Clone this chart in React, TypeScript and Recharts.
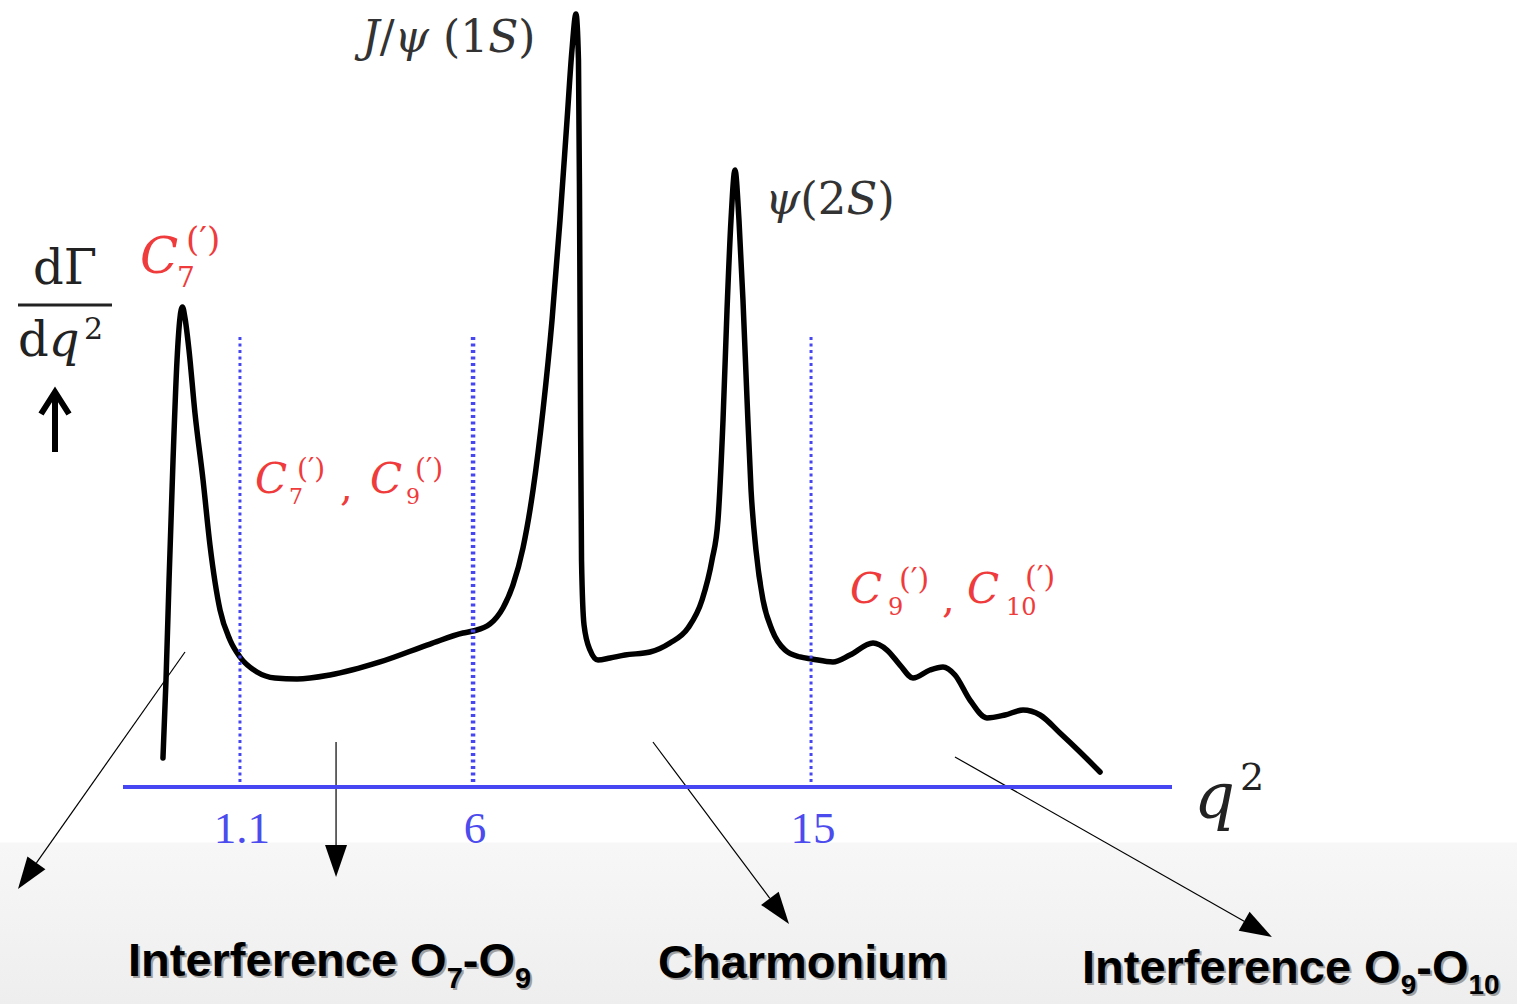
import React from 'react';
import { LineChart, Line, XAxis, YAxis, ReferenceLine, Customized } from 'recharts';

// Schematic dΓ/dq² spectrum. x: position along the drawn q² axis (0..100 spans the axis line),
// y: differential rate in arbitrary units (0 at the axis, 100 at the top of the plot).
const curveX = [
  3.81, 4.10, 4.39, 4.77, 5.15, 5.43, 5.67, 5.91, 6.29, 6.86, 7.63, 8.29, 9.25, 10.20, 11.15,
  12.77, 14.49, 16.59, 19.73, 24.50, 29.27, 32.41, 33.37, 34.99, 36.22, 37.18, 38.13, 39.09,
  40.04, 40.90, 41.66, 42.33, 42.80, 43.18, 43.42, 43.52, 43.61, 43.71, 43.95, 44.52, 45.28,
  46.43, 47.85, 50.24, 52.14, 53.86, 55.20, 56.15, 56.72, 57.20, 57.58, 57.96, 58.34, 58.72,
  59.10, 59.49, 59.87, 60.34, 61.01, 61.87, 63.11, 64.54, 65.68, 67.68, 69.30, 71.50, 72.83,
  74.07, 75.31, 76.93, 78.17, 79.31, 80.74, 82.36, 84.08, 85.80, 87.42, 89.32, 91.23, 93.14,
];
const curveY = [
  3.72, 13.72, 26.54, 41.92, 54.74, 60.13, 61.54, 60.13, 56.03, 47.95, 39.36, 31.03, 22.69, 18.85, 16.67,
  14.74, 13.97, 13.85, 14.36, 16.03, 18.33, 19.74, 20.00, 20.90, 22.95, 25.90, 30.64, 38.08,
  48.33, 59.87, 72.69, 85.51, 94.49, 99.10, 93.21, 75.26, 49.62, 29.10, 20.77, 17.56, 16.28,
  16.54, 16.92, 17.31, 18.46, 20.38, 23.97, 29.10, 34.23, 47.05, 61.15, 72.69, 79.10, 72.69,
  62.44, 49.62, 38.08, 30.38, 23.97, 20.13, 17.56, 16.67, 16.41, 16.03, 16.92, 18.46, 17.56,
  15.64, 13.97, 15.00, 15.38, 14.36, 11.15, 8.85, 9.23, 9.87, 9.23, 6.92, 4.49, 1.92,
];

// q² bin boundaries (tick positions along the schematic axis and their labels)
const tickPositions = [11.15, 33.37, 65.59];
const tickLabels = ['1.1', '6', '15'];
const boundaryTop = 57.7;
const boundaryWidths = [3, 4.5, 3];

// annotation arrows: [x, y] start and end points in chart units
const arrowStarts = [
  [5.91, 17.31],
  [20.31, 5.77],
  [50.52, 5.77],
  [79.31, 3.85],
];
const arrowEnds = [
  [-10.01, -13.08],
  [20.31, -11.54],
  [63.49, -17.56],
  [109.53, -19.23],
];

const data = curveX.map((x, i) => ({ x, y: curveY[i] }));

const BLUE = '#4646f2';
const RED = '#ef3b3b';
const SERIF = '"Liberation Serif", "DejaVu Serif", serif';
const MATH = '"DejaVu Serif", "Liberation Serif", serif';
const SANS = '"Liberation Sans", Arial, sans-serif';

const AxisTick = (props: any) => {
  const { x, y, payload } = props;
  const i = tickPositions.indexOf(payload.value);
  return (
    <text x={x + 2} y={y + 54} textAnchor="middle" fontFamily={SERIF} fontSize={45} fill="#4b4bee">
      {tickLabels[i]}
    </text>
  );
};

const arrowShape = (props: any) => {
  const { x1, y1, x2, y2 } = props;
  const dx = x2 - x1;
  const dy = y2 - y1;
  const len = Math.hypot(dx, dy) || 1;
  const ux = dx / len;
  const uy = dy / len;
  const hl = 32;
  const hw = 11;
  const bx = x2 - ux * hl;
  const by = y2 - uy * hl;
  const pts = `${x2},${y2} ${bx - uy * hw},${by + ux * hw} ${bx + uy * hw},${by - ux * hw}`;
  return (
    <g>
      <line x1={x1} y1={y1} x2={bx} y2={by} stroke="#000" strokeWidth={1.2} />
      <polygon points={pts} fill="#000" />
    </g>
  );
};

const ShadowText = ({ x, y, children }: any) => (
  <g fontFamily={SANS} fontWeight="bold" fontSize={47}>
    <text x={x + 2} y={y + 2} fill="#a0a0a0">{children}</text>
    <text x={x} y={y} fill="#000">{children}</text>
  </g>
);

const CoefLabel = ({ x, y, size, sub, subSize, supSize, subDx, supDx, supDy }: any) => (
  <g fontFamily={MATH} fill={RED}>
    <text x={x} y={y} fontSize={size} fontStyle="italic">C</text>
    <text x={x + subDx} y={y + subSize * 0.5} fontSize={subSize}>{sub}</text>
    <text x={x + supDx} y={y + supDy} fontSize={supSize}>(′)</text>
  </g>
);

const Annotations = () => (
  <g>
    {/* y-axis label */}
    <text x={65} y={284} textAnchor="middle" fontFamily={MATH} fontSize={48} fill="#222">dΓ</text>
    <line x1={18} y1={305} x2={112} y2={305} stroke="#222" strokeWidth={3} />
    <text x={18} y={356} fontFamily={MATH} fontSize={48} fill="#222">
      d<tspan fontStyle="italic">q</tspan>
    </text>
    <text x={84} y={339} fontFamily={MATH} fontSize={30} fill="#222">2</text>
    <path d="M55,452 L55,396" stroke="#000" strokeWidth={6} fill="none" />
    <path d="M41,414 L55,392 L69,414" stroke="#000" strokeWidth={6} fill="none" strokeLinejoin="miter" />

    {/* x-axis label */}
    <text x={1194} y={818} fontFamily={MATH} fontStyle="italic" fontSize={64} fill="#222">q</text>
    <text x={1240} y={790} fontFamily={MATH} fontSize={38} fill="#222">2</text>

    {/* resonance labels */}
    <text x={362} y={52} fontFamily={MATH} fontSize={44} fill="#333">
      <tspan fontStyle="italic">J</tspan>/<tspan fontStyle="italic">ψ</tspan> (1<tspan fontStyle="italic">S</tspan>)
    </text>
    <text x={765} y={214} fontFamily={MATH} fontSize={45} fill="#333">
      <tspan fontStyle="italic">ψ</tspan>(2<tspan fontStyle="italic">S</tspan>)
    </text>

    {/* Wilson coefficient labels */}
    <CoefLabel x={140} y={273} size={50} sub="7" subSize={28} supSize={34} subDx={37} supDx={46} supDy={-22} />

    <CoefLabel x={255} y={493} size={42} sub="7" subSize={22} supSize={28} subDx={34} supDx={42} supDy={-15} />
    <text x={340} y={500} fontFamily={MATH} fontSize={40} fill={RED}>,</text>
    <CoefLabel x={370} y={493} size={42} sub="9" subSize={22} supSize={28} subDx={36} supDx={45} supDy={-15} />

    <CoefLabel x={850} y={603} size={42} sub="9" subSize={24} supSize={30} subDx={38} supDx={49} supDy={-14} />
    <text x={942} y={612} fontFamily={MATH} fontSize={40} fill={RED}>,</text>
    <CoefLabel x={967} y={603} size={42} sub="10" subSize={24} supSize={30} subDx={39} supDx={58} supDy={-16} />

    {/* region captions */}
    <ShadowText x={128} y={976}>
      Interference O<tspan fontSize={29} dy={12}>7</tspan><tspan dy={-12}>-O</tspan><tspan fontSize={29} dy={12}>9</tspan>
    </ShadowText>
    <ShadowText x={658} y={978}>Charmonium</ShadowText>
    <ShadowText x={1082} y={983}>
      Interference O<tspan fontSize={28} dy={11}>9</tspan><tspan dy={-11}>-O</tspan><tspan fontSize={28} dy={11}>10</tspan>
    </ShadowText>
  </g>
);

export default function App() {
  return (
    <div
      style={{
        position: 'absolute',
        left: 0,
        top: 0,
        width: 1517,
        height: 1004,
        background: 'linear-gradient(to bottom, #ffffff 0px, #ffffff 842px, #f7f7f7 843px, #eeeeee 1004px)',
      }}
    >
      <LineChart width={1517} height={1004} data={data} margin={{ top: 7, right: 345, bottom: 157, left: 123 }}>
        <XAxis
          type="number"
          dataKey="x"
          domain={[0, 100]}
          ticks={tickPositions}
          tick={<AxisTick />}
          tickLine={false}
          tickSize={0}
          height={60}
          axisLine={{ stroke: BLUE, strokeWidth: 4 }}
          allowDataOverflow
        />
        <YAxis type="number" domain={[0, 100]} hide allowDataOverflow />
        <Line
          type="monotone"
          dataKey="y"
          stroke="#000"
          strokeWidth={5.5}
          strokeLinejoin="round"
          strokeLinecap="round"
          dot={false}
          activeDot={false}
          isAnimationActive={false}
        />
        {tickPositions.map((t, i) => (
          <ReferenceLine
            key={'b' + i}
            segment={[{ x: t, y: boundaryTop }, { x: t, y: 0 }]}
            stroke={BLUE}
            strokeWidth={boundaryWidths[i]}
            strokeDasharray="3 3.5"
            ifOverflow="visible"
          />
        ))}
        {arrowStarts.map((s, i) => (
          <ReferenceLine
            key={'a' + i}
            segment={[{ x: s[0], y: s[1] }, { x: arrowEnds[i][0], y: arrowEnds[i][1] }]}
            ifOverflow="visible"
            shape={arrowShape}
          />
        ))}
        <Customized component={Annotations} />
      </LineChart>
    </div>
  );
}
